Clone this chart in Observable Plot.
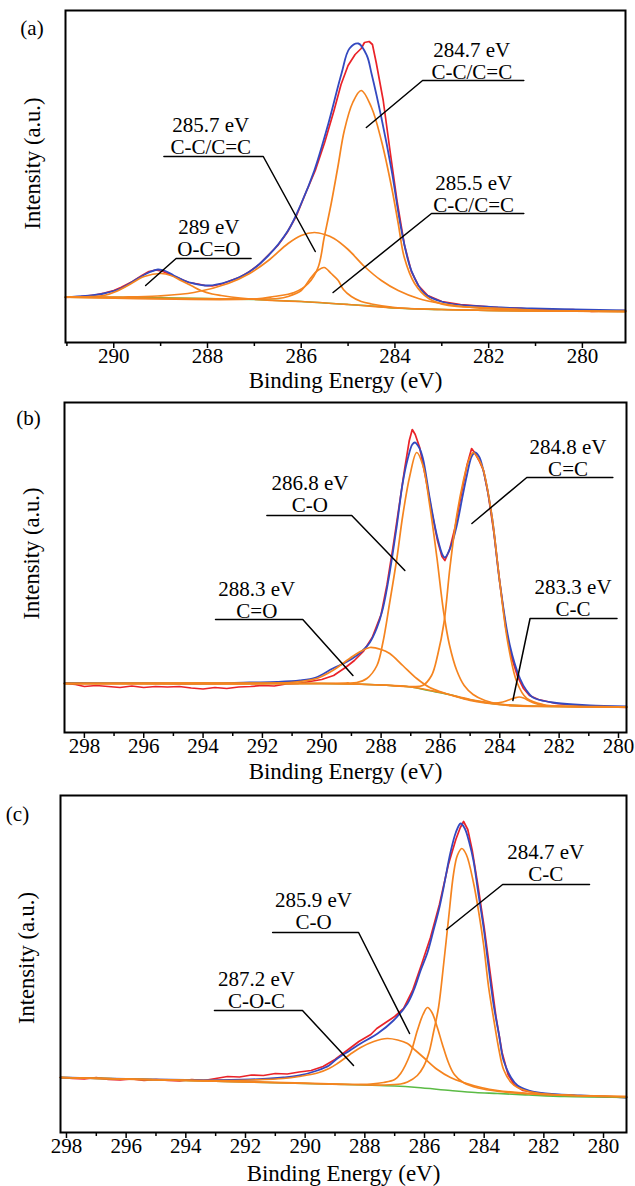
<!DOCTYPE html>
<html><head><meta charset="utf-8">
<script src="https://cdn.jsdelivr.net/npm/d3@7"></script>
<script src="https://cdn.jsdelivr.net/npm/@observablehq/plot@0.6"></script>
<style>
body{margin:0;background:#fff}
#c{position:relative;width:635px;height:1186px;overflow:hidden}
#c svg{position:absolute;left:0;overflow:visible}
</style></head><body><div id="c"></div>
<script>
// ---------- Panel (a) ----------
const aRaw=[[291.03,45],[290.7,46],[290.4,47.5],[290.2,49.5],[290,52],[289.85,55],[289.6,61],[289.4,67],[289.25,71],[289.1,72.5],[288.95,71],[288.8,68],[288.6,64],[288.4,60],[288.2,58.5],[288.05,57],[287.9,56.5],[287.7,58.5],[287.5,62],[287.3,65.5],[287.1,71],[286.9,78],[286.7,87.5],[286.5,97],[286.3,110],[286.1,127],[285.9,150],[285.7,172],[285.5,200],[285.3,232],[285.15,258],[285.0,277],[284.85,288],[284.72,294],[284.65,300],[284.55,301],[284.48,298],[284.4,280],[284.25,242],[284.1,190],[283.95,140],[283.8,98],[283.65,71],[283.5,57],[283.3,47],[283.0,41],[282.6,38],[282.2,36.5],[281.8,35],[281.4,34.5],[281,33],[280.6,32.5],[280.2,33],[279.8,31],[279.5,31.5],[279.08,32]];
const aFit=[[291.03,45.3],[290.6,46.5],[290.21,49],[289.85,54],[289.49,64],[289.25,70],[289.06,73],[288.9,71.5],[288.72,67],[288.5,62],[288.29,59],[287.99,57],[287.56,61],[287.13,70],[286.7,87],[286.28,112],[286.0,139],[285.72,172],[285.42,219],[285.14,269],[284.97,294],[284.78,299],[284.6,287],[284.5,269],[284.29,225],[284.07,172],[283.86,112],[283.65,72],[283.37,49],[282.94,40],[282.15,36],[281.08,34],[279.08,32]];
const aBg=[[291.03,45.3],[289,44.8],[288,44],[287,43],[286,41],[285.5,39.5],[285,38],[284.5,36.5],[284,34.5],[283.5,33.5],[283,33],[282,32],[280,31.3],[279.08,31]];
const aPeak289=[[291.03,45.3],[290.5,45.8],[290.21,47],[289.95,51],[289.7,57],[289.35,66],[288.99,69],[288.78,67],[288.57,62],[288.35,57],[288.14,52],[287.9,48.5],[287.71,47],[287.3,44.5],[286.8,42.5],[286,41],[285,38],[284,34.5],[283,33],[281,31.5],[279.08,31]];
const aPeak2857=[[291.03,45.3],[289.8,45.5],[289.06,46.5],[288.29,50],[287.56,59],[287.1,69],[286.7,82],[286.28,99],[286.0,107],[285.72,110],[285.5,108],[285.3,104],[285.0,93],[284.65,76],[284.29,62],[283.93,52],[283.5,44],[283.01,39],[282.36,35],[281.5,32.5],[280,31.3],[279.08,31]];
const aPeak2855=[[291.03,45.3],[287,43.5],[286.5,44],[286.28,46],[286.0,52],[285.79,65],[285.65,72],[285.51,75],[285.36,69],[285.21,62],[285.1,53],[284.93,46],[284.72,41],[284.5,38.5],[284,35],[283,33],[281,31.5],[279.08,31]];
const aPeak2847=[[291.03,45.3],[287,43.5],[286.58,46],[286.15,50],[285.85,59],[285.64,75],[285.51,105],[285.36,139],[285.22,175],[285.08,212],[284.9,240],[284.72,252],[284.5,235],[284.29,202],[284.07,155],[283.93,119],[283.8,85],[283.58,59],[283.28,44],[282.86,37],[282.15,35],[281,32.5],[279.08,31]];
const aNotes=[
 {text:"289 eV\nO-C=O",x:287.97,y:104.5,x1:288.67,x2:287.07,yu:84,px:289.32,py:57,side:"left"},
 {text:"285.7 eV\nC-C/C=C",x:287.93,y:207,x1:288.93,x2:286.81,yu:186,px:285.70,py:91,side:"right"},
 {text:"284.7 eV\nC-C/C=C",x:282.36,y:282,x1:283.41,x2:281.25,yu:262,px:284.61,py:215,side:"left"},
 {text:"285.5 eV\nC-C/C=C",x:282.32,y:149,x1:283.22,x2:281.25,yu:129,px:285.32,py:50,side:"left"}
];
const aTicks=[290,288,286,284,282,280], aMinor=[291,289,287,285,283,281];

// ---------- Panel (b) ----------
const bRaw=[[298.67,49],[298.3,48],[298,46],[297.6,47],[297.2,46],[296.8,45],[296.4,46.5],[296,45],[295.6,46],[295.2,45.5],[294.8,46],[294.4,44.5],[294,43.5],[293.6,45],[293.2,44],[292.8,45.5],[292.4,46],[292,47],[291.6,46.5],[291.2,48.5],[290.8,49],[290.4,51],[290,53],[289.6,57],[289.2,65],[288.9,72],[288.6,81],[288.3,95],[288.0,118],[287.8,148],[287.6,185],[287.4,225],[287.2,265],[287.05,292],[286.95,303],[286.85,298],[286.7,285],[286.5,255],[286.3,222],[286.1,192],[285.95,176],[285.85,172],[285.7,182],[285.5,206],[285.3,238],[285.1,268],[284.95,284],[284.85,280],[284.7,272],[284.55,262],[284.4,240],[284.2,200],[284.0,150],[283.8,105],[283.6,75],[283.4,56],[283.2,44],[283,37],[282.7,33],[282.4,31],[282.1,29],[281.7,28],[281.4,27.5],[281.1,26.5],[280.7,26],[280.3,25.5],[279.73,25]];
const bFit=[[298.67,49.5],[296,49.3],[294,49],[292.43,50],[291.5,50.5],[290.74,52],[290.2,55],[289.63,64],[289.2,70],[288.82,77],[288.55,84],[288.38,90],[288.15,104],[287.94,124],[287.71,160],[287.47,207],[287.27,250],[287.1,274],[286.95,288],[286.86,290],[286.72,285],[286.59,274],[286.36,234],[286.12,197],[285.92,177],[285.85,175],[285.65,186],[285.45,207],[285.25,237],[285.11,257],[284.95,276],[284.84,280],[284.7,276],[284.57,264],[284.27,217],[284.0,150],[283.66,87],[283.32,54],[283.1,42],[282.88,35],[282.5,31.5],[282.21,30],[281.5,28],[280.96,27],[279.73,26]];
const bBg=[[298.67,49],[292,49],[290,49],[289,48.5],[288,47.5],[287,45.5],[286.4,42],[285.7,38],[285.2,34],[284.5,30],[284,28],[283,26.5],[282,26],[280,25.5],[279.73,25.5]];
const bPeak2883=[[298.67,49],[292,49],[291.08,50],[290.6,51.5],[290.17,54],[289.63,62],[289.06,74],[288.7,81],[288.38,85],[288.0,83],[287.71,79],[287.27,67],[286.8,54],[286.36,45],[285.92,40],[285.5,36],[285,32],[284.5,29.5],[283.5,26.5],[282,26],[279.73,25.5]];
const bPeak2868=[[298.67,49],[290,49],[289.2,49.5],[288.82,50],[288.48,54],[288.14,67],[287.94,90],[287.71,130],[287.47,174],[287.27,217],[287.03,257],[286.8,280],[286.59,267],[286.36,227],[286.12,175],[285.9,122],[285.7,88],[285.45,62],[285.2,47],[284.9,38],[284.5,32],[284,28.5],[283,26.5],[281,26],[279.73,25.5]];
const bPeak2848=[[298.67,49],[290,49],[288,47.5],[287,46],[286.6,47],[286.3,57],[286.09,78],[285.88,110],[285.68,165],[285.45,217],[285.24,250],[285.05,272],[284.9,280],[284.75,275],[284.57,264],[284.27,217],[284.0,150],[283.73,90],[283.42,50],[283.09,34],[282.55,28],[281.5,26],[279.73,25.5]];
const bPeak2833=[[298.67,49],[290,49],[288,47.5],[287,45.5],[286,40],[285,33],[284.5,30.5],[284.2,29.5],[283.9,30.5],[283.7,32.5],[283.5,34.5],[283.35,35.5],[283.2,34.5],[283.0,31.5],[282.8,29],[282.5,27],[282,26],[279.73,25.5]];
const bNotes=[
 {text:"286.8 eV\nC-O",x:290.40,y:238.5,x1:291.85,x2:288.99,yu:217,px:287.20,py:162,side:"right"},
 {text:"288.3 eV\nC=O",x:292.19,y:132.5,x1:293.58,x2:290.64,yu:113,px:288.95,py:57,side:"right"},
 {text:"284.8 eV\nC=C",x:281.70,y:274.5,x1:283.09,x2:280.19,yu:255,px:284.94,py:209,side:"left"},
 {text:"283.3 eV\nC-C",x:281.53,y:134.5,x1:282.98,x2:280.05,yu:114,px:283.56,py:32,side:"left"}
];
const bTicks=[298,296,294,292,290,288,286,284,282,280], bMinor=[297,295,293,291,289,287,285,283,281];

// ---------- Panel (c) ----------
const cRaw=[[298.2,55],[297.8,54],[297.4,53.5],[297,55],[296.6,53],[296.2,52.5],[295.8,53.5],[295.4,52],[295,53],[294.6,52],[294.2,51.5],[293.8,53],[293.4,52],[293,54],[292.6,56],[292.2,55.5],[291.8,57.5],[291.4,57],[291,59],[290.6,58.5],[290.2,60.5],[289.8,62],[289.4,66],[289,73],[288.6,82],[288.2,91],[287.8,98],[287.6,104],[287.3,110],[287.0,116],[286.7,124],[286.4,142],[286.1,168],[285.8,195],[285.5,228],[285.2,268],[284.95,293],[284.8,305],[284.69,311],[284.55,303],[284.4,282],[284.2,245],[284.0,205],[283.8,160],[283.6,115],[283.4,80],[283.2,58],[283.0,48],[282.7,42],[282.3,40],[281.8,38],[281.3,37.5],[280.8,36.5],[280.3,36],[279.8,35.5],[279.23,35]];
const cFit=[[298.2,55],[296,53.5],[294,52.5],[292.5,52.5],[291.83,53],[290.73,55],[290.2,57],[289.59,62],[289.2,67],[288.92,74],[288.5,82],[288.14,89],[287.57,99],[287.04,112],[286.57,129],[286.35,143],[286.13,162],[285.9,180],[285.7,202],[285.5,225],[285.36,245],[285.13,280],[284.95,300],[284.79,309],[284.65,304],[284.5,290],[284.36,272],[284.2,240],[284.02,205],[283.85,165],[283.69,129],[283.5,97],[283.35,72],[283.1,55],[282.88,47],[282.5,42],[282.21,40],[281.5,38],[280.77,37],[279.23,35]];
const cBg=[[298.2,55],[296,53.5],[294,52],[292,50.5],[290,49],[288,47.5],[287,46.5],[286.24,45],[285.13,42],[284.3,40],[283.55,39],[282.5,37.5],[281.3,36],[280,35.5],[279.23,35]];
const cPeak2872=[[298.2,55],[296,53.5],[294,52.3],[292.5,52],[291.83,52.5],[290.73,54],[290.2,56],[289.59,59.5],[289.2,64],[288.92,69],[288.5,78],[288.14,85],[287.7,91],[287.25,94],[286.9,92.5],[286.57,89],[286.3,82],[286.03,75],[285.57,63],[285.13,55],[284.69,50],[284.1,45],[283.55,42],[282.4,39],[281,37],[279.23,36]];
const cPeak2859=[[298.2,55],[294,52],[290,49],[288.4,48],[287.8,48.5],[287.37,50],[287.0,53],[286.8,59],[286.47,79],[286.24,102],[286.05,118],[285.9,125],[285.75,120],[285.57,105],[285.4,88],[285.2,70],[285.0,58],[284.7,50],[284.2,44.5],[283.5,41],[282.5,38.5],[281,37],[279.23,36]];
const cPeak2847=[[298.2,55],[294,52],[290,49.5],[288.4,48],[287.37,47.5],[286.8,48.5],[286.57,50.5],[286.24,57],[286.03,66],[285.85,80],[285.7,100],[285.53,125],[285.36,168],[285.19,215],[285.03,258],[284.9,277],[284.75,284],[284.6,278],[284.36,250],[284.17,218],[284.02,188],[283.85,145],[283.69,115],[283.5,82],[283.35,63],[283.1,50],[282.88,45],[282.5,41],[282.11,39],[281,37],[279.23,35.5]];
const cNotes=[
 {text:"285.9 eV\nC-O",x:289.72,y:222,x1:291.09,x2:288.21,yu:200,px:286.50,py:99,side:"right"},
 {text:"287.2 eV\nC-O-C",x:291.63,y:142.5,x1:293.04,x2:290.09,yu:122,px:288.38,py:67,side:"right"},
 {text:"284.7 eV\nC-C",x:281.94,y:269.5,x1:283.38,x2:280.47,yu:248,px:285.26,py:203,side:"left"}
];
const cTicks=[298,296,294,292,290,288,286,284,282,280], cMinor=[297,295,293,291,289,287,285,283,281];

// ---------- drawing ----------
const RED="#ea2228", BLUE="#3449c0", ORANGE="#f5841f", GREEN="#5bbb45";
const FONT='"Liberation Serif","Times New Roman",serif';

function leader(n){
  return n.side==="left"
    ? [[n.x2,n.yu],[n.x1,n.yu],[n.px,n.py]]
    : [[n.x1,n.yu],[n.x2,n.yu],[n.px,n.py]];
}

function panel(p){
  const X=d=>d[0], Y=d=>d[1];
  const lines=p.notes.flatMap((n,i)=>leader(n).map(q=>({x:q[0],y:q[1],k:i})));
  const svg=Plot.plot({
    width:635, height:p.h,
    marginLeft:p.ml, marginRight:p.mr, marginTop:p.mt, marginBottom:p.mb,
    x:{domain:p.xd}, y:{domain:p.yd, axis:null},
    style:{fontFamily:FONT, fontSize:"21px", color:"black", background:"transparent", overflow:"visible"},
    marks:[
      Plot.line(p.raw,{x:X,y:Y,stroke:RED,strokeWidth:1.7}),
      Plot.line(p.fit,{x:X,y:Y,stroke:BLUE,strokeWidth:1.8,curve:"catmull-rom"}),
      Plot.line(p.bg,{x:X,y:Y,stroke:GREEN,strokeWidth:1.6,curve:"catmull-rom"}),
      ...p.peaks.map(pk=>Plot.line(pk,{x:X,y:Y,stroke:ORANGE,strokeWidth:1.7,curve:"catmull-rom"})),
      Plot.line(lines,{x:"x",y:"y",z:"k",stroke:"black",strokeWidth:1.5}),
      Plot.text(p.notes,{x:"x",y:"y",text:"text",lineAnchor:"middle",lineHeight:1.05,fontSize:21,fontFamily:FONT,fill:"black"}),
      Plot.frame({stroke:"black",strokeWidth:2}),
      Plot.axisX(p.ticks,{tickSize:6,tickPadding:0,strokeWidth:1.5,tickFormat:d=>String(d),fontSize:21,fontFamily:FONT,label:null}),
      Plot.axisX(p.minor,{tickSize:4,strokeWidth:1.5,tickFormat:()=>"",label:null}),
      Plot.text(["Binding Energy (eV)"],{frameAnchor:"bottom",dy:p.xlDy,lineAnchor:"middle",textAnchor:"middle",fontSize:23,fontFamily:FONT}),
      Plot.text(["Intensity (a.u.)"],{frameAnchor:"left",rotate:-90,dx:p.ylDx,dy:p.ylDy,lineAnchor:"middle",textAnchor:"middle",fontSize:22.5,fontFamily:FONT}),
      Plot.text([p.tag],{frameAnchor:"top-left",dx:p.tagDx,dy:p.tagDy,lineAnchor:"middle",textAnchor:"middle",fontSize:21,fontFamily:FONT})
    ]
  });
  svg.style.top=p.top+"px";
  document.getElementById("c").appendChild(svg);
}

panel({tag:"(a)",top:0,h:390,ml:65,mr:10,mt:10,mb:48,xd:[291.03,279.08],yd:[0,332],
  raw:aRaw,fit:aFit,bg:aBg,peaks:[aPeak289,aPeak2857,aPeak2855,aPeak2847],notes:aNotes,
  ticks:aTicks,minor:aMinor,xlDy:38,ylDx:-33,ylDy:-13,tagDx:-33.5,tagDy:18});
panel({tag:"(b)",top:390,h:390,ml:64,mr:9,mt:12,mb:48,xd:[298.67,279.73],yd:[0,330],
  raw:bRaw,fit:bFit,bg:bBg,peaks:[bPeak2883,bPeak2868,bPeak2848,bPeak2833],notes:bNotes,
  ticks:bTicks,minor:bMinor,xlDy:39,ylDx:-33,ylDy:-14,tagDx:-36,tagDy:16});
panel({tag:"(c)",top:780,h:406,ml:60,mr:9,mt:15,mb:54,xd:[298.2,279.23],yd:[0,337],
  raw:cRaw,fit:cFit,bg:cBg,peaks:[cPeak2872,cPeak2859,cPeak2847],notes:cNotes,
  ticks:cTicks,minor:cMinor,xlDy:41,ylDx:-34,ylDy:-6,tagDx:-43,tagDy:19});
</script></body></html>
